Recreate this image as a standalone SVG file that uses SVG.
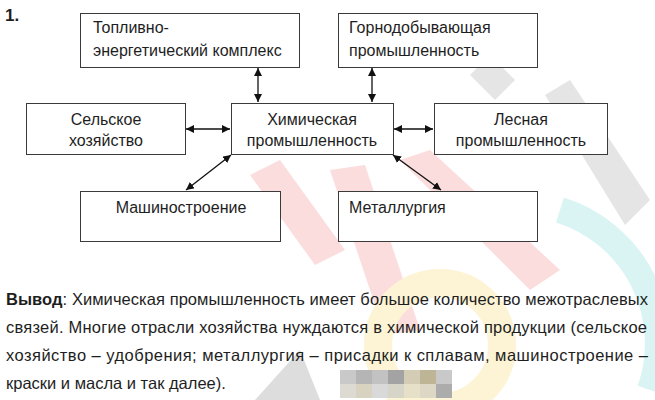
<svg xmlns="http://www.w3.org/2000/svg" width="655" height="400" viewBox="0 0 655 400">
<defs>
<style>
.box{fill:#fff;stroke:#3a3a3a;stroke-width:1}
.t{font-family:"Liberation Sans",Arial,sans-serif;font-size:16px;fill:#1e1e1e}
.c{text-anchor:middle}
.p{font-family:"Liberation Sans",Arial,sans-serif;font-size:16.5px;fill:#1e1e1e}
.conn{stroke:#111;stroke-width:1.3;fill:none;marker-start:url(#ah);marker-end:url(#ah)}
</style>
<marker id="ah" markerUnits="userSpaceOnUse" markerWidth="9" markerHeight="8" refX="8" refY="4" orient="auto-start-reverse">
<path d="M0,0 L8,4 L0,8 Z" fill="#111"/>
</marker>
</defs>
<rect width="655" height="400" fill="#fff"/>
<g id="watermark" opacity="0.16">
<polygon points="470,75 490,55 515,80 495,100" fill="#666"/>
<polygon points="545,95 570,80 650,200 625,225" fill="#666"/>
<polygon points="330,170 365,165 420,330 385,335" fill="#e33"/>
<polygon points="400,160 430,150 560,270 530,290" fill="#e33"/>
<polygon points="250,175 280,160 345,250 315,265" fill="#e33"/>
<circle cx="440" cy="345" r="62" fill="none" stroke="#f5c200" stroke-width="28"/>
<path d="M560,210 A140,140 0 0 1 650,390" fill="none" stroke="#2bb" stroke-width="26"/>
<polygon points="255,400 300,350 320,400" fill="#333"/>
</g>
<g id="mosaic">
<rect x="340" y="370" width="16" height="14" fill="#c9c9c9"/>
<rect x="356" y="370" width="16" height="14" fill="#b5b5b5"/>
<rect x="372" y="370" width="16" height="14" fill="#c2c2c2"/>
<rect x="388" y="370" width="16" height="14" fill="#a3a3a3"/>
<rect x="404" y="370" width="16" height="14" fill="#d4ccb4"/>
<rect x="420" y="370" width="16" height="14" fill="#beb596"/>
<rect x="436" y="370" width="16" height="14" fill="#c9c9c9"/>
<rect x="340" y="384" width="16" height="14" fill="#dcdad2"/>
<rect x="356" y="384" width="16" height="14" fill="#d8d3c0"/>
<rect x="372" y="384" width="16" height="14" fill="#d9d9d9"/>
<rect x="388" y="384" width="16" height="14" fill="#d7d4c8"/>
<rect x="404" y="384" width="16" height="14" fill="#e6e0c8"/>
<rect x="420" y="384" width="16" height="14" fill="#ddd8c6"/>
<rect x="436" y="384" width="16" height="14" fill="#acacac"/>
</g>
<text x="5" y="21" font-family="Liberation Sans,Arial,sans-serif" font-size="17" font-weight="bold" fill="#1e1e1e">1.</text>
<g id="connectors">
<line class="conn" x1="258" y1="68" x2="258" y2="102"/>
<line class="conn" x1="372" y1="68" x2="372" y2="102"/>
<line class="conn" x1="186" y1="129" x2="230" y2="129"/>
<line class="conn" x1="394" y1="129" x2="433" y2="129"/>
<line class="conn" x1="186" y1="190" x2="231" y2="155"/>
<line class="conn" x1="393" y1="155" x2="441" y2="190"/>
</g>
<g id="n-tek">
<rect class="box" x="80.5" y="13.5" width="219" height="54"/>
<text class="t" x="93" y="33">Топливно-</text>
<text class="t" x="93" y="56">энергетический комплекс</text>
</g>
<g id="n-gorno">
<rect class="box" x="338.5" y="13.5" width="199" height="54"/>
<text class="t" x="349" y="33">Горнодобывающая</text>
<text class="t" x="349" y="56">промышленность</text>
</g>
<g id="n-selsk">
<rect class="box" x="26.5" y="103.5" width="159" height="51"/>
<text class="t c" x="106" y="125">Сельское</text>
<text class="t c" x="106" y="146">хозяйство</text>
</g>
<g id="n-chem">
<rect class="box" x="231.5" y="103.5" width="162" height="51"/>
<text class="t c" x="312" y="125">Химическая</text>
<text class="t c" x="312" y="146">промышленность</text>
</g>
<g id="n-les">
<rect class="box" x="434.5" y="103.5" width="173" height="51"/>
<text class="t c" x="521" y="125">Лесная</text>
<text class="t c" x="521" y="146">промышленность</text>
</g>
<g id="n-mash">
<rect class="box" x="80.5" y="191.5" width="200" height="50"/>
<text class="t c" x="181" y="213">Машиностроение</text>
</g>
<g id="n-met">
<rect class="box" x="338.5" y="191.5" width="199" height="50"/>
<text class="t" x="349" y="213">Металлургия</text>
</g>
<g id="conclusion">
<text class="p" x="6" y="305" textLength="642" lengthAdjust="spacing"><tspan font-weight="bold">Вывод</tspan>: Химическая промышленность имеет большое количество межотраслевых</text>
<text class="p" x="6" y="333" textLength="641" lengthAdjust="spacing">связей. Многие отрасли хозяйства нуждаются в химической продукции (сельское</text>
<text class="p" x="6" y="361" textLength="642" lengthAdjust="spacing">хозяйство – удобрения; металлургия – присадки к сплавам, машиностроение –</text>
<text class="p" x="6" y="389">краски и масла и так далее).</text>
</g>
</svg>
